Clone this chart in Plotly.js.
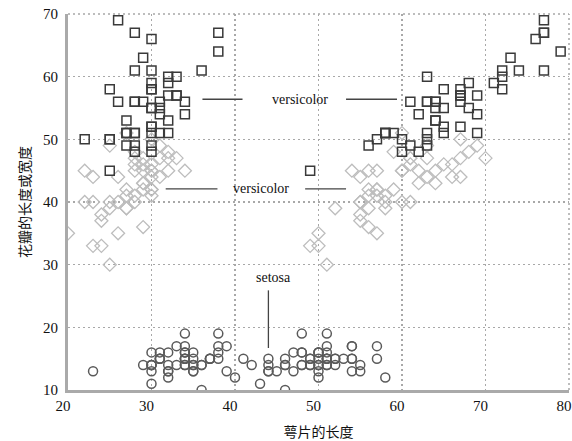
<!DOCTYPE html>
<html>
<head>
<meta charset="utf-8">
<script src="https://cdn.plot.ly/plotly-3.0.1.min.js"></script>
<style>html,body{margin:0;padding:0;background:#fff;}#chart{width:572px;height:441px;}</style>
</head>
<body>
<div id="chart"></div>
<script>
// Iris values (x10): x = sepal width (left cluster) / sepal length (right cluster), y = petal length
const setosaSepalLength = [51,49,47,46,50,54,46,50,44,49,54,48,48,43,58,57,54,51,57,51,54,51,46,51,48,50,50,52,52,47,48,54,52,55,49,50,55,49,44,51,50,45,44,50,51,48,51,46,53,50];
const setosaSepalWidth  = [35,30,32,31,36,39,34,34,29,31,37,34,30,30,40,44,39,35,38,38,34,37,36,33,34,30,34,35,34,32,31,34,41,42,31,32,35,36,30,34,35,23,32,35,38,30,38,32,37,33];
const setosaPetalLength = [14,14,13,15,14,17,14,15,14,15,15,16,14,11,12,15,13,14,17,15,17,15,10,17,19,16,16,15,14,16,16,15,15,14,15,12,13,14,13,15,13,13,13,16,19,14,16,14,15,14];

const versicolorSepalLength = [70,64,69,55,65,57,63,49,66,52,50,59,60,61,56,67,56,58,62,56,59,61,63,61,64,66,68,67,60,57,55,55,58,60,54,60,67,63,56,55,55,61,58,50,56,57,57,62,51,57];
const versicolorSepalWidth  = [32,32,31,23,28,28,33,24,29,27,20,30,22,29,29,31,30,27,22,25,32,28,25,28,29,30,28,30,29,26,24,24,27,27,30,34,31,23,30,25,26,30,26,23,27,30,29,29,25,28];
const versicolorPetalLength = [47,45,49,40,46,45,47,33,46,39,35,42,40,47,36,44,45,41,45,39,48,40,49,47,43,44,48,50,45,35,38,37,39,51,45,45,47,44,41,40,44,46,40,33,42,42,42,43,30,41];

const virginicaSepalLength = [63,58,71,63,65,76,49,73,67,72,65,64,68,57,58,64,65,77,77,60,69,56,77,63,67,72,62,61,64,72,74,79,64,63,61,77,63,64,60,69,67,69,58,68,67,67,63,65,62,59];
const virginicaSepalWidth  = [33,27,30,29,30,30,25,29,25,36,32,27,30,25,28,32,30,38,26,22,32,28,28,27,33,32,28,30,28,30,28,38,28,28,26,30,34,31,30,31,31,31,27,32,33,30,25,30,34,30];
const virginicaPetalLength = [60,51,59,56,58,66,45,63,58,61,51,53,55,50,51,53,55,67,69,50,57,49,67,49,57,60,48,49,56,58,61,64,56,51,56,61,56,55,48,54,56,51,51,59,57,52,50,52,54,51];

const xTicks = [20,30,40,50,60,70,80];
const yTicks = [10,20,30,40,50,60,70];

// Label annotations
const labelTexts = ['versicolor','versicolor','setosa'];
const labelX = [47.8, 43.1, 44.6];
const labelY = [56.4, 42.1, 28.0];
// pointer lines: [x0, y0, x1, y1]
const pointerLines = [
  [36.1,56.4,40.9,56.4],[53.3,56.4,59.4,56.4],
  [31.7,42.1,37.9,42.1],[48.4,42.1,53.3,42.1],
  [44.0,25.9,44.0,16.7]
];

function both(a,b){return a.concat(b);}

const traces = [
  {x: both(versicolorSepalWidth, versicolorSepalLength), y: both(versicolorPetalLength, versicolorPetalLength),
   type:'scatter', mode:'markers', name:'versicolor',
   marker:{symbol:'diamond-open', size:10, color:'#bdbdbd', line:{width:1.3, color:'#bdbdbd'}}},
  {x: both(virginicaSepalWidth, virginicaSepalLength), y: both(virginicaPetalLength, virginicaPetalLength),
   type:'scatter', mode:'markers', name:'virginica',
   marker:{symbol:'square-open', size:9, color:'#3a3a3a', line:{width:1.5, color:'#3a3a3a'}}},
  {x: both(setosaSepalWidth, setosaSepalLength), y: both(setosaPetalLength, setosaPetalLength),
   type:'scatter', mode:'markers', name:'setosa',
   marker:{symbol:'circle-open', size:9, color:'#5a5a5a', line:{width:1.5, color:'#5a5a5a'}}}
];

const serif = '"Liberation Serif", "Times New Roman", serif';
const cjk = '"Noto Sans CJK SC", sans-serif';
const gridStyle = {color:'#a8a8a8', width:1.5, dash:'2px,3px'};

const borderLines = [
  {type:'line', xref:'paper', yref:'paper', x0:0, x1:1, y0:1, y1:1, line:gridStyle, layer:'below'},
  {type:'line', xref:'paper', yref:'paper', x0:1, x1:1, y0:0, y1:1, line:gridStyle, layer:'below'}
];

const layout = {
  width:572, height:441,
  margin:{l:68, r:3, t:14, b:51},
  showlegend:false,
  paper_bgcolor:'#fff', plot_bgcolor:'#fff',
  xaxis:{range:[20,80], tickvals:xTicks, ticktext:xTicks.map(String),
    showgrid:true, gridcolor:'#a8a8a8', griddash:'2px,3px', gridwidth:1.5,
    showline:true, linecolor:'#aaa', linewidth:3, zeroline:false, ticks:'',
    ticklabelshift:-5, ticklabeloverflow:'allow',
    tickfont:{family:serif, size:15, color:'#111'},
    title:{text:'萼片的长度', font:{family:cjk, size:14, color:'#111'}, standoff:15}},
  yaxis:{range:[10,70], tickvals:yTicks, ticktext:yTicks.map(String),
    showgrid:true, gridcolor:'#a8a8a8', griddash:'2px,3px', gridwidth:1.5,
    showline:true, linecolor:'#aaa', linewidth:3, zeroline:false, ticks:'',
    ticklabelstandoff:4, ticklabeloverflow:'allow',
    tickfont:{family:serif, size:15, color:'#111'},
    title:{text:'花瓣的长度或宽度', font:{family:cjk, size:14, color:'#111'}, standoff:10}},
  annotations: labelTexts.map((t,i)=>({text:t, x:labelX[i], y:labelY[i], xref:'x', yref:'y',
    showarrow:false, font:{family:serif, size:14, color:'#111'}})),
  shapes: borderLines.concat(pointerLines.map(p=>({type:'line', xref:'x', yref:'y', x0:p[0], y0:p[1], x1:p[2], y1:p[3],
    line:{color:'#444', width:1.3}})))
};

Plotly.newPlot('chart', traces, layout, {displayModeBar:false, staticPlot:true});
</script>
</body>
</html>
